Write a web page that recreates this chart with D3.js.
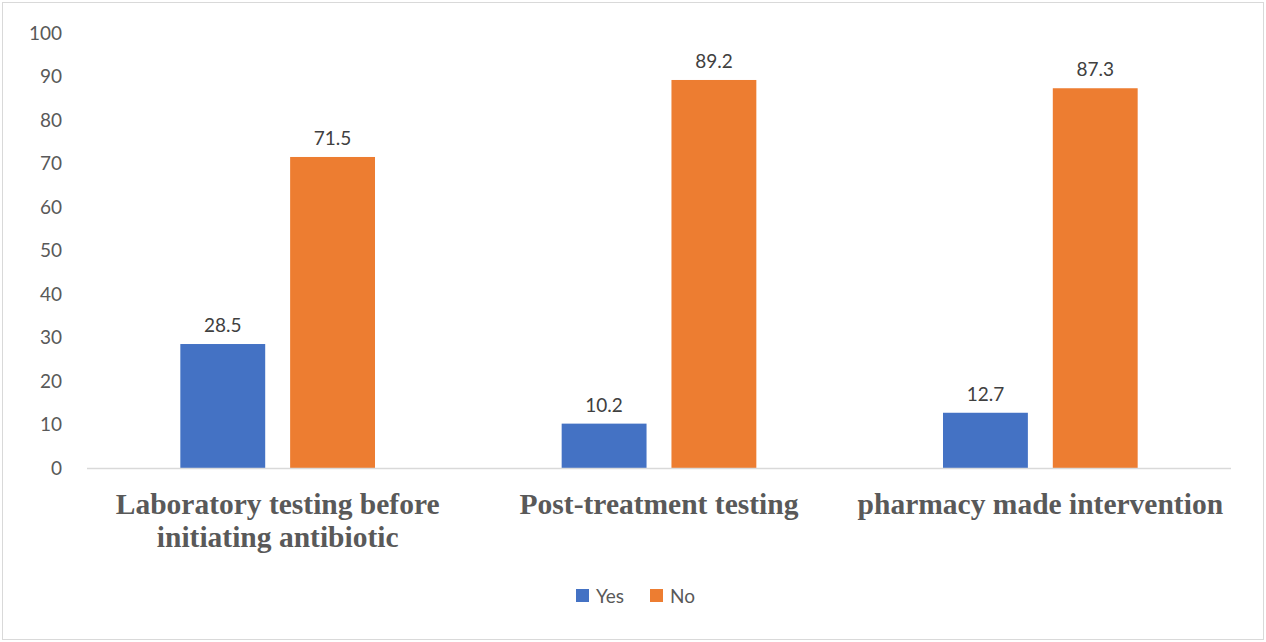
<!DOCTYPE html>
<html>
<head>
<meta charset="utf-8">
<script src="https://cdn.jsdelivr.net/npm/d3@7"></script>
<style>
  body { margin: 0; background: #fff; }
  svg { display: block; }
</style>
</head>
<body>
<div id="chart"></div>
<script>
(function () {
    "use strict";

    var categories = [
        ["Laboratory testing before", "initiating antibiotic"],
        ["Post-treatment testing"],
        ["pharmacy made intervention"]
    ];
    var seriesNames = ["Yes", "No"];
    var yesValues = [28.5, 10.2, 12.7];
    var noValues = [71.5, 89.2, 87.3];
    var yTicks = [0, 10, 20, 30, 40, 50, 60, 70, 80, 90, 100];
    var colors = ["#4472c4", "#ed7d31"];

    var width = 1266, height = 642;
    var x0 = 87, x1 = 1231, yTop = 33, yBase = 468;

    var svg = d3.select("#chart").append("svg")
        .attr("width", width)
        .attr("height", height);

    svg.append("rect")
        .attr("x", 2.5).attr("y", 2.5)
        .attr("width", width - 5).attr("height", height - 5)
        .attr("fill", "#fff")
        .attr("stroke", "#d9d9d9");

    var x = d3.scaleBand()
        .domain(d3.range(categories.length))
        .range([x0, x1]);

    var xs = d3.scaleBand()
        .domain(seriesNames)
        .range([0, x.bandwidth()])
        .paddingInner(0.227)
        .paddingOuter(0.85);

    var y = d3.scaleLinear()
        .domain([0, 100])
        .range([yBase, yTop]);

    // y tick labels
    svg.append("g").selectAll("text")
        .data(yTicks)
        .join("text")
        .attr("x", 62)
        .attr("y", function (d) { return y(d); })
        .attr("dy", "0.35em")
        .attr("text-anchor", "end")
        .attr("font-family", "Lato, 'Open Sans', sans-serif")
        .attr("font-size", 19)
        .attr("fill", "#595959")
        .text(function (d) { return d; });

    var rows = categories.map(function (c, i) {
        return [
            { key: "Yes", cat: i, v: yesValues[i] },
            { key: "No", cat: i, v: noValues[i] }
        ];
    });
    var bars = d3.merge(rows);

    svg.append("g").selectAll("rect")
        .data(bars)
        .join("rect")
        .attr("x", function (d) { return x(d.cat) + xs(d.key); })
        .attr("y", function (d) { return y(d.v); })
        .attr("width", xs.bandwidth())
        .attr("height", function (d) { return yBase - y(d.v); })
        .attr("fill", function (d) { return colors[seriesNames.indexOf(d.key)]; });

    // baseline
    svg.append("line")
        .attr("x1", x0).attr("x2", x1)
        .attr("y1", yBase + 0.5).attr("y2", yBase + 0.5)
        .attr("stroke", "#d9d9d9")
        .attr("stroke-width", 1.5);

    // data labels
    svg.append("g").selectAll("text")
        .data(bars)
        .join("text")
        .attr("x", function (d) { return x(d.cat) + xs(d.key) + xs.bandwidth() / 2; })
        .attr("y", function (d) { return y(d.v) - 12; })
        .attr("text-anchor", "middle")
        .attr("font-family", "Lato, 'Open Sans', sans-serif")
        .attr("font-size", 19)
        .attr("fill", "#404040")
        .text(function (d) { return d.v.toFixed(1); });

    // category labels
    var cat = svg.append("g").selectAll("text")
        .data(categories)
        .join("text")
        .attr("x", function (d, i) { return x(i) + x.bandwidth() / 2; })
        .attr("y", 514)
        .attr("text-anchor", "middle")
        .attr("font-family", "'Liberation Serif', 'DejaVu Serif', serif")
        .attr("font-weight", "bold")
        .attr("font-size", 29.5)
        .attr("fill", "#595959");
    cat.selectAll("tspan")
        .data(function (d) { return d; })
        .join("tspan")
        .attr("x", function () { return d3.select(this.parentNode).attr("x"); })
        .attr("dy", function (d, i) { return i === 0 ? 0 : 33; })
        .text(function (d) { return d; });

    // legend
    var legendX = [576, 650];
    var lg = svg.append("g").selectAll("g")
        .data(seriesNames)
        .join("g")
        .attr("transform", function (d, i) { return "translate(" + legendX[i] + ",589)"; });
    lg.append("rect")
        .attr("width", 13).attr("height", 13)
        .attr("fill", function (d, i) { return colors[i]; });
    lg.append("text")
        .attr("x", 20).attr("y", 7)
        .attr("dy", "0.35em")
        .attr("font-family", "Lato, 'Open Sans', sans-serif")
        .attr("font-size", 19)
        .attr("fill", "#595959")
        .text(function (d) { return d; });
}());
</script>
</body>
</html>
